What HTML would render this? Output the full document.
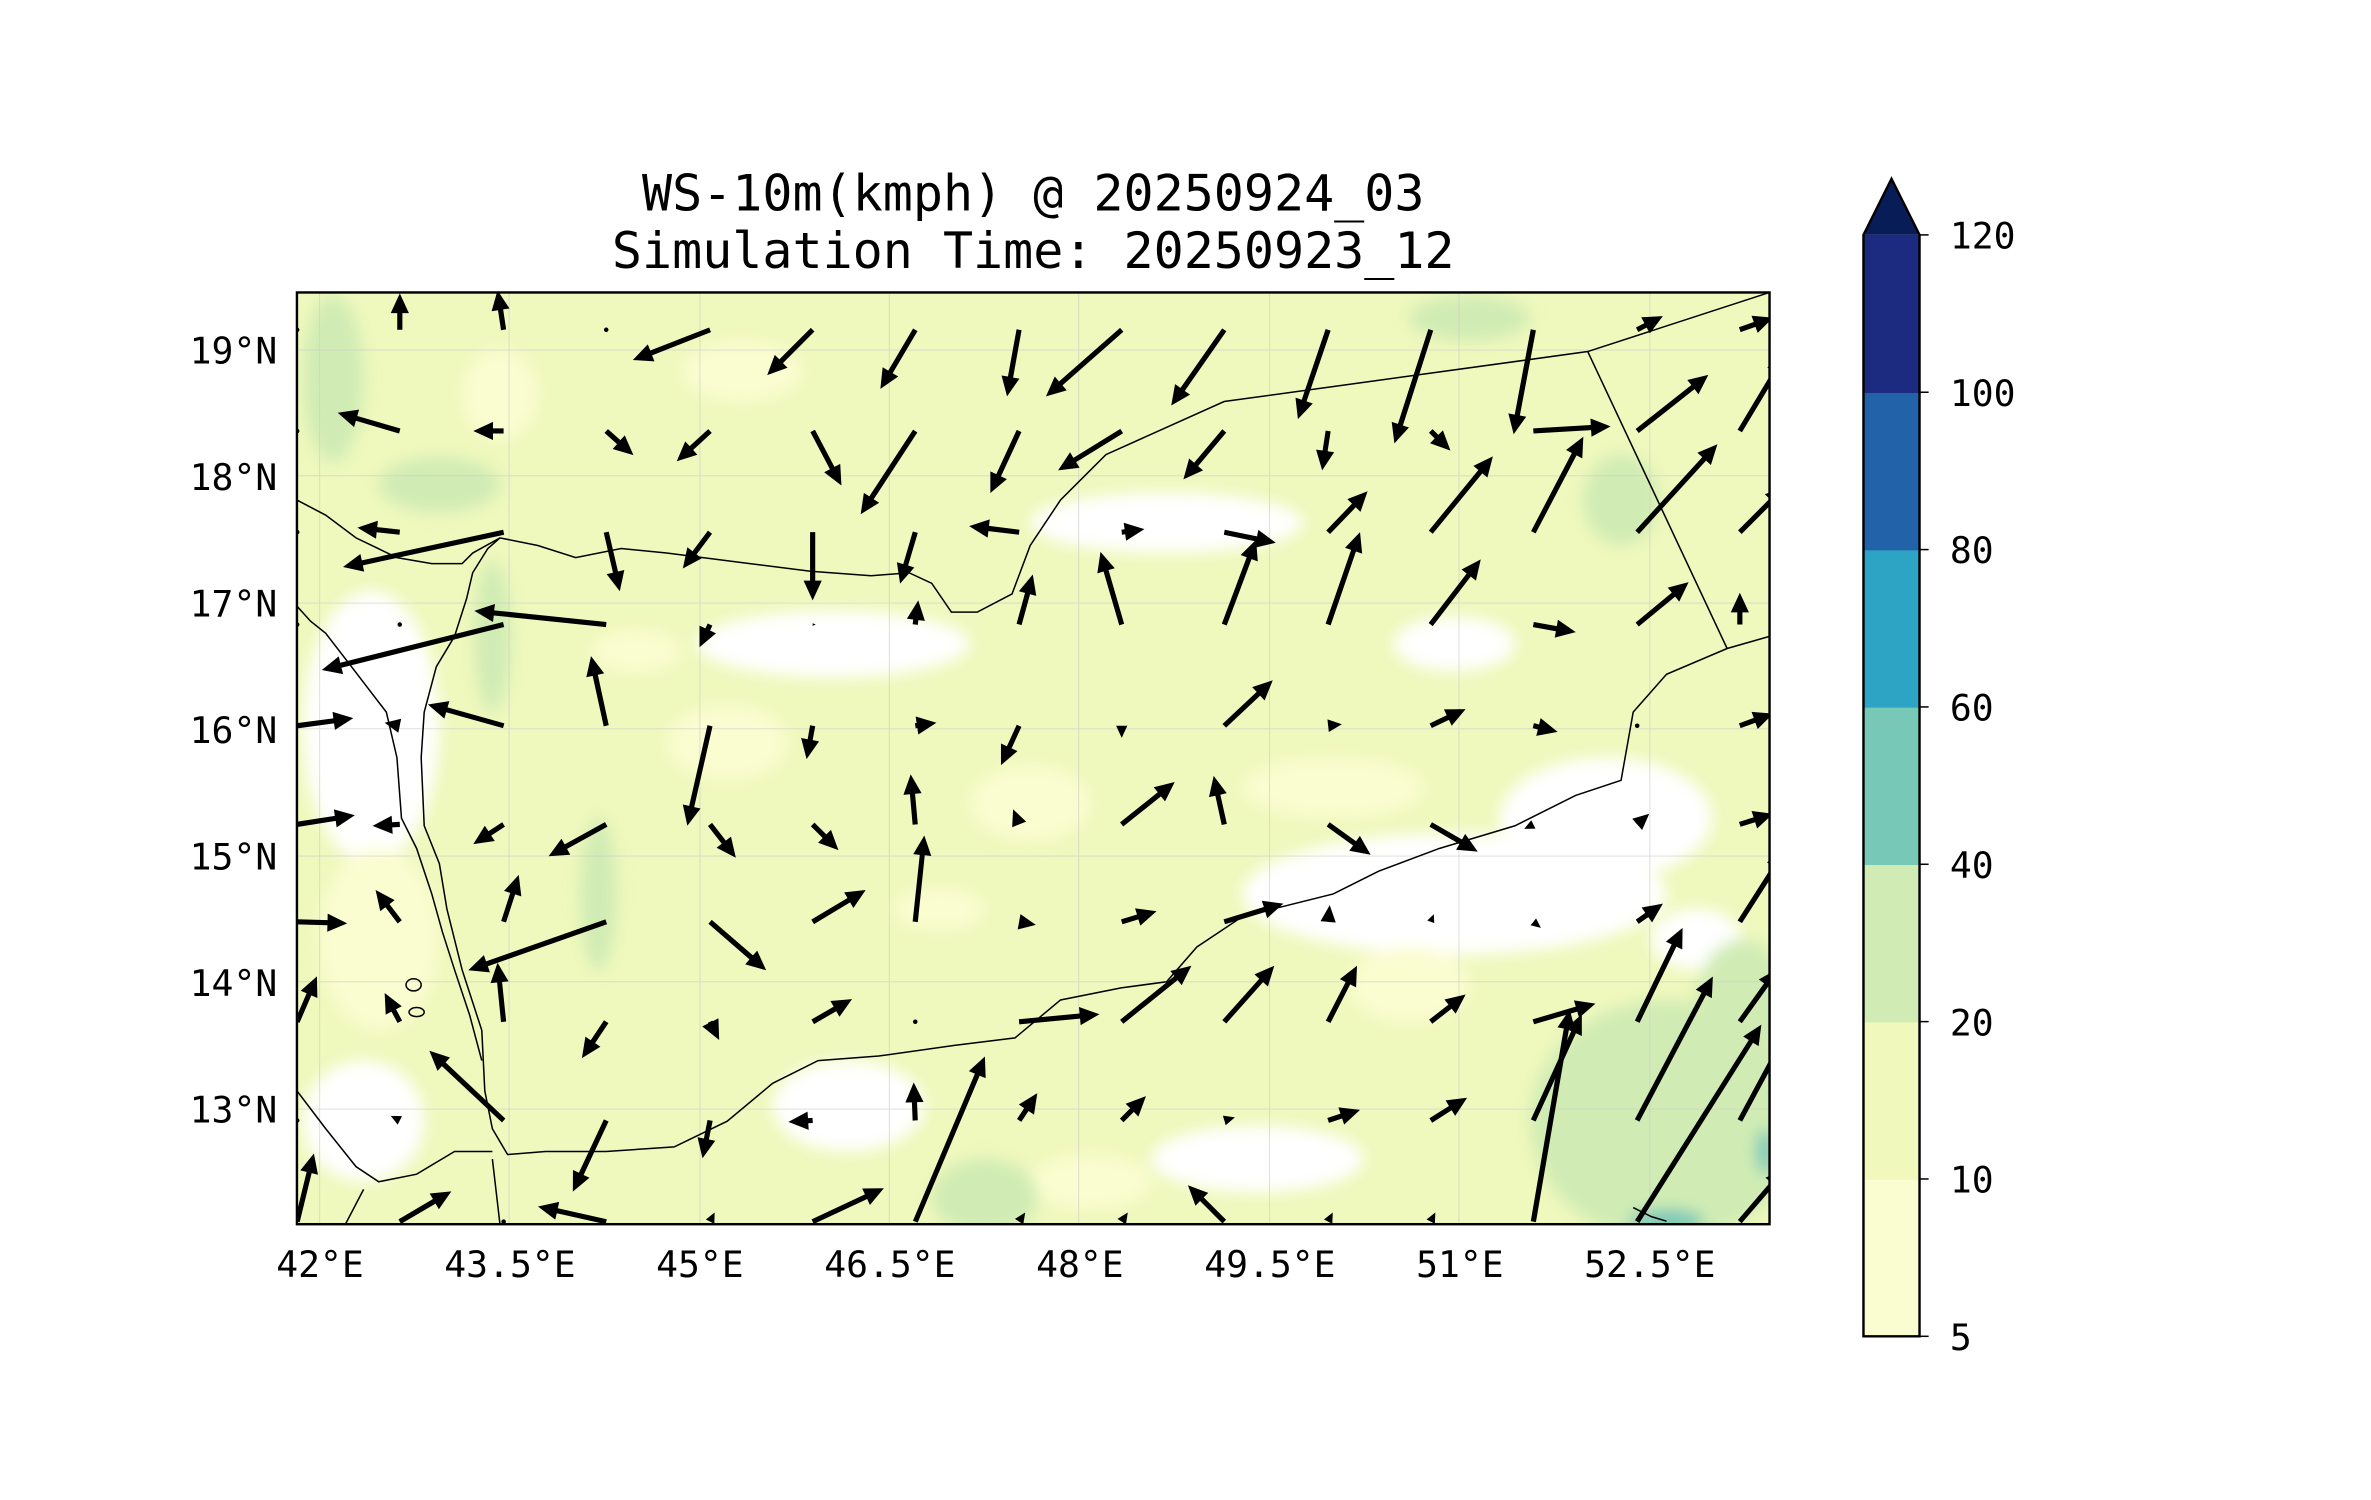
<!DOCTYPE html>
<html><head><meta charset="utf-8"><style>
html,body{margin:0;padding:0;background:#fff;}
svg{display:block;}
text{font-family:"DejaVu Sans Mono","Liberation Mono",monospace;fill:#000;}
</style></head><body>
<svg id="fig" width="2371" height="1500" viewBox="0 0 1565 990" xmlns="http://www.w3.org/2000/svg">
<defs>
<clipPath id="mapclip"><rect x="196" y="193" width="972" height="615"/></clipPath>
<filter id="blur" x="-20%" y="-20%" width="140%" height="140%"><feGaussianBlur stdDeviation="5"/></filter>
</defs>
<text x="682" y="139" font-size="33" text-anchor="middle">WS-10m(kmph) @ 20250924_03</text>
<text x="682" y="177" font-size="33" text-anchor="middle">Simulation Time: 20250923_12</text>

<g clip-path="url(#mapclip)">
<rect x="196" y="193" width="972" height="615" fill="#eff8bd"/>
<g filter="url(#blur)">
 <ellipse cx="245" cy="480" rx="45" ry="90" fill="#ffffff"/>
 <ellipse cx="250" cy="620" rx="40" ry="60" fill="#fafdd0"/>
 <ellipse cx="240" cy="740" rx="40" ry="40" fill="#ffffff"/>
 <ellipse cx="550" cy="425" rx="90" ry="22" fill="#ffffff"/>
 <ellipse cx="770" cy="345" rx="90" ry="20" fill="#ffffff"/>
 <ellipse cx="960" cy="425" rx="40" ry="18" fill="#ffffff"/>
 <ellipse cx="960" cy="590" rx="140" ry="40" fill="#ffffff"/>
 <ellipse cx="1060" cy="540" rx="70" ry="40" fill="#ffffff"/>
 <ellipse cx="880" cy="520" rx="60" ry="20" fill="#fafdd0"/>
 <ellipse cx="560" cy="730" rx="50" ry="30" fill="#ffffff"/>
 <ellipse cx="830" cy="765" rx="70" ry="22" fill="#ffffff"/>
 <ellipse cx="680" cy="530" rx="40" ry="25" fill="#fafdd0"/>
 <ellipse cx="480" cy="490" rx="40" ry="25" fill="#fafdd0"/>
 <ellipse cx="930" cy="650" rx="40" ry="25" fill="#fafdd0"/>
 <ellipse cx="330" cy="260" rx="25" ry="30" fill="#fafdd0"/>
 <ellipse cx="490" cy="245" rx="40" ry="20" fill="#fafdd0"/>
 <ellipse cx="420" cy="430" rx="30" ry="14" fill="#fafdd0"/>
 <ellipse cx="620" cy="600" rx="30" ry="14" fill="#fafdd0"/>
 <ellipse cx="720" cy="780" rx="40" ry="18" fill="#fafdd0"/>
 <ellipse cx="1120" cy="620" rx="30" ry="20" fill="#ffffff"/>
 <ellipse cx="220" cy="250" rx="20" ry="55" fill="#d0ecb4"/>
 <ellipse cx="290" cy="320" rx="40" ry="18" fill="#d0ecb4"/>
 <ellipse cx="325" cy="420" rx="12" ry="50" fill="#d0ecb4"/>
 <ellipse cx="395" cy="590" rx="12" ry="50" fill="#d0ecb4"/>
 <ellipse cx="970" cy="210" rx="40" ry="15" fill="#d0ecb4"/>
 <ellipse cx="1070" cy="330" rx="25" ry="30" fill="#d0ecb4"/>
 <ellipse cx="1100" cy="740" rx="90" ry="80" fill="#d0ecb4"/>
 <ellipse cx="1150" cy="660" rx="30" ry="40" fill="#d0ecb4"/>
 <ellipse cx="650" cy="790" rx="35" ry="25" fill="#d0ecb4"/>
 <ellipse cx="1100" cy="806" rx="25" ry="8" fill="#78c8b8"/>
 <ellipse cx="1165" cy="760" rx="6" ry="15" fill="#78c8b8"/>
</g>
<g stroke="#cccccc" stroke-width="0.6" opacity="0.7">
 <line x1="211" y1="193" x2="211" y2="808"/><line x1="336" y1="193" x2="336" y2="808"/>
 <line x1="462" y1="193" x2="462" y2="808"/><line x1="587" y1="193" x2="587" y2="808"/>
 <line x1="712" y1="193" x2="712" y2="808"/><line x1="838" y1="193" x2="838" y2="808"/>
 <line x1="963" y1="193" x2="963" y2="808"/><line x1="1089" y1="193" x2="1089" y2="808"/>
 <line x1="196" y1="231" x2="1168" y2="231"/><line x1="196" y1="314" x2="1168" y2="314"/>
 <line x1="196" y1="398" x2="1168" y2="398"/><line x1="196" y1="481" x2="1168" y2="481"/>
 <line x1="196" y1="565" x2="1168" y2="565"/><line x1="196" y1="648" x2="1168" y2="648"/>
 <line x1="196" y1="732" x2="1168" y2="732"/>
</g>
<g fill="none" stroke="#000" stroke-width="1">
 <path d="M196,330 L215,340 L235,355 L262,368 L285,372 L305,372 L312,365 L330,355 L355,360 L380,368 L410,362 L440,365 L495,372 L535,377 L575,380 L600,378 L615,385 L628,404 L645,404 L668,392 L680,360 L700,330 L730,300 L808,265 L1048,232 L1168,193"/>
 <path d="M1048,232 L1140,428"/>
 <path d="M1168,420 L1140,428 L1100,445 L1078,470 L1070,515 L1040,525 L1000,545 L950,560 L910,575 L880,590 L820,605 L790,625 L770,648 L740,652 L700,660 L670,685 L630,690 L580,697 L540,700 L510,715 L480,740 L445,757 L400,760 L360,760 L335,762 L325,745 L320,720 L318,680 L305,640 L295,600 L290,570 L280,545 L278,500 L280,470 L288,440 L300,420 L308,395 L312,378 L322,362 L330,355"/>
 <path d="M196,400 L205,410 L215,418 L232,440 L255,470 L262,500 L265,540 L275,560 L285,590 L292,615 L300,640 L310,670 L318,700"/>
 <path d="M196,720 L215,745 L235,770 L250,780 L275,775 L300,760 L325,760"/>
 <path d="M228,808 L240,785"/>
 <path d="M325,765 L330,808"/>
 <ellipse cx="273" cy="650" rx="5" ry="4"/><ellipse cx="275" cy="668" rx="5" ry="3"/>
 <path d="M1078,797 L1090,803 L1100,806"/>
</g>
<g id="quiver"></g>
</g>
<rect x="196" y="193" width="972" height="615" fill="none" stroke="#000" stroke-width="1.6"/>

<g id="yticks"></g>
<g id="xticks"></g>
<g id="cbar"></g>
</svg>
<script>
const NS="http://www.w3.org/2000/svg";
const lons=[41.82,42.63,43.45,44.26,45.08,45.89,46.70,47.52,48.33,49.14,49.96,50.77,51.58,52.40,53.21];
const lats=[19.16,18.36,17.56,16.83,16.03,15.25,14.48,13.69,12.91,12.11];
const U=[
[0,0,-4,0,-51,-30,-23,-8,-50,-35,-20,-24,-13,17,22],
[0,-41,-20,18,-22,19,-36,-19,-42,-27,-4,13,51,47,30],
[0,-28,-106,9,-18,0,-10,-33,15,34,26,41,33,53,30],
[0,0,-120,-87,-7,2,2,9,-14,21,21,33,28,34,0],
[37,-10,-50,-10,-15,-4,14,-12,0,32,9,23,16,0,22],
[38,-18,-20,-38,17,17,-3,-4,35,-7,28,31,-6,8,22],
[33,-16,10,-91,37,35,6,11,23,39,1,2,5,17,30],
[13,-10,-4,-16,6,26,0,53,46,33,19,23,41,30,25],
[0,-6,-49,-22,-5,-16,-1,12,16,7,21,24,32,50,35],
[11,34,0,-45,3,47,46,4,4,-24,3,3,24,82,30]];
const V=[
[0,24,26,0,-20,-30,-39,-44,-44,-50,-59,-75,-69,9,8],
[0,12,0,-16,-20,-36,-55,-41,-26,-32,-26,-13,3,37,50],
[0,3,-23,-39,-24,-45,-34,4,2,-7,27,50,63,58,30],
[0,0,-30,9,-15,0,16,33,48,56,61,43,-5,28,21],
[5,2,14,46,-66,-22,2,-26,-8,30,1,11,-4,0,8],
[6,-1,-13,-21,-22,-17,33,10,28,32,-20,-18,-3,7,7],
[-1,21,31,-32,-32,21,57,-2,7,12,11,5,-4,12,47],
[30,19,39,-24,-12,15,0,5,37,37,37,18,12,62,35],
[0,3,46,-47,-25,-1,25,18,16,2,7,15,70,95,65],
[45,20,0,10,6,22,109,6,6,24,6,6,140,130,35]];
const xOf=lon=>211.2+(lon-42)*83.6;
const yOf=lat=>231-(lat-19)*83.5;
const q=document.getElementById('quiver');
for(let i=0;i<lats.length;i++){for(let j=0;j<lons.length;j++){
 const u=U[i][j],v=V[i][j];const L=Math.hypot(u,v);
 const x0=xOf(lons[j]),y0=yOf(lats[i]);
 if(L<1.5){const d=document.createElementNS(NS,'circle');d.setAttribute('cx',x0);d.setAttribute('cy',y0);d.setAttribute('r',1.5);
  
  
  q.appendChild(d);continue;}
 const ux=u/L,uy=-v/L,px=-uy,py=ux;
 const s=Math.min(1,L/13);const hl=13*s,hw=6*s,sw=1.7*Math.max(s,0.5);
 const bx=x0+ux*(L-hl),by=y0+uy*(L-hl),tx=x0+ux*L,ty=y0+uy*L;
 const pts=[[x0+px*sw,y0+py*sw],[bx+px*sw,by+py*sw],[bx+px*hw,by+py*hw],[tx,ty],[bx-px*hw,by-py*hw],[bx-px*sw,by-py*sw],[x0-px*sw,y0-py*sw]];
 const p=document.createElementNS(NS,'polygon');
 p.setAttribute('points',pts.map(a=>a[0].toFixed(1)+','+a[1].toFixed(1)).join(' '));
 p.setAttribute('fill','#000');
 
 
 q.appendChild(p);
}}
const latTicks=[19,18,17,16,15,14,13];
const latLabels=["19°N","18°N","17°N","16°N","15°N","14°N","13°N"];
const lonTicks=[42,43.5,45,46.5,48,49.5,51,52.5];
const lonLabels=["42°E","43.5°E","45°E","46.5°E","48°E","49.5°E","51°E","52.5°E"];
const yt=document.getElementById('yticks');
latTicks.forEach((t,k)=>{const e=document.createElementNS(NS,'text');e.setAttribute('x',183);e.setAttribute('y',yOf(t)+9);e.setAttribute('font-size',24);e.setAttribute('text-anchor','end');e.textContent=latLabels[k];
 
 
 yt.appendChild(e);});
const xt=document.getElementById('xticks');
lonTicks.forEach((t,k)=>{const e=document.createElementNS(NS,'text');e.setAttribute('x',xOf(t));e.setAttribute('y',843);e.setAttribute('font-size',24);e.setAttribute('text-anchor','middle');e.textContent=lonLabels[k];
 
 
 xt.appendChild(e);});
const cbLevels=["5","10","20","40","60","80","100","120"];
const cbColors=["#fafdd0","#f0f8bc","#d0ecb4","#78c8b8","#2ea4c4","#2262a8","#1c2a80"];
const cb=document.getElementById('cbar');
const cbX=1230,cbW=37,cbTop=155,cbBot=882,step=(cbBot-cbTop)/7;
cbColors.forEach((c,k)=>{const r=document.createElementNS(NS,'rect');r.setAttribute('x',cbX);r.setAttribute('y',cbBot-(k+1)*step);r.setAttribute('width',cbW);r.setAttribute('height',step+0.5);r.setAttribute('fill',c);
 
 
 cb.appendChild(r);});
const tri=document.createElementNS(NS,'polygon');
tri.setAttribute('points',`${cbX},${cbTop} ${cbX+cbW/2},118 ${cbX+cbW},${cbTop}`);tri.setAttribute('fill','#081d58');


cb.appendChild(tri);
const out=document.createElementNS(NS,'path');
out.setAttribute('d',`M${cbX},${cbBot} L${cbX},${cbTop} L${cbX+cbW/2},118 L${cbX+cbW},${cbTop} L${cbX+cbW},${cbBot} Z`);
out.setAttribute('fill','none');out.setAttribute('stroke','#000');out.setAttribute('stroke-width','1.6');


cb.appendChild(out);
cbLevels.forEach((l,k)=>{const y=cbBot-k*step;
 const tk=document.createElementNS(NS,'line');tk.setAttribute('x1',cbX+cbW);tk.setAttribute('x2',cbX+cbW+6);tk.setAttribute('y1',y);tk.setAttribute('y2',y);tk.setAttribute('stroke','#000');tk.setAttribute('stroke-width','1');
 
 
 cb.appendChild(tk);
 const e=document.createElementNS(NS,'text');e.setAttribute('x',cbX+cbW+20);e.setAttribute('y',y+9);e.setAttribute('font-size',24);e.textContent=l;
 
 
 cb.appendChild(e);});
</script>
</body></html>
